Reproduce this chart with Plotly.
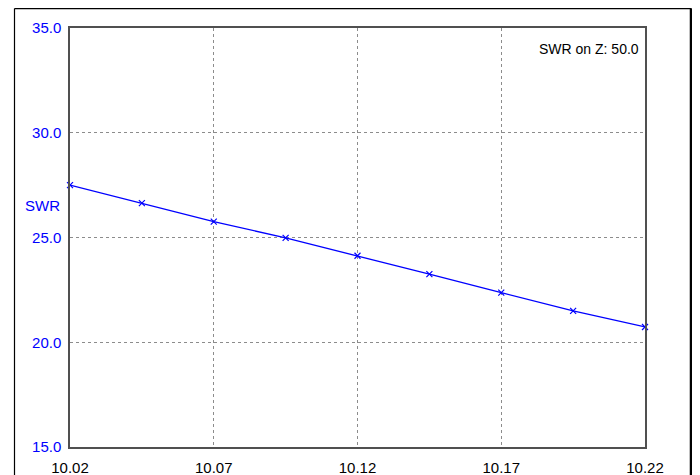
import plotly.graph_objects as go

freq = [10.02, 10.045, 10.07, 10.095, 10.12, 10.145, 10.17, 10.195, 10.22]
swr = [27.50, 26.64, 25.76, 24.98, 24.13, 23.25, 22.37, 21.50, 20.73]
x_ticks = [10.02, 10.07, 10.12, 10.17, 10.22]
x_tick_labels = ["10.02", "10.07", "10.12", "10.17", "10.22"]
y_ticks = [15, 20, 25, 30, 35]
y_tick_labels = ["15.0", "20.0", "25.0", "30.0", "35.0"]

BLUE = "#0000ff"
FONT = "Liberation Sans, Arial, sans-serif"

fig = go.Figure()
fig.add_trace(go.Scatter(
    x=freq, y=swr, mode="lines+markers",
    line=dict(color=BLUE, width=1.3),
    marker=dict(symbol="x-thin", size=6, color=BLUE, line=dict(color=BLUE, width=1.2)),
    cliponaxis=False, showlegend=False,
))

# page body has an 8px margin; work in screen pixels
OFF = 8
W, H = 700 - OFF, 475 - OFF
L_s, R_s, T_s, B_s = 70, 645, 28, 446.7  # plot area edges in screen px
L = L_s - OFF
T = T_s - OFF
R = W - (R_s - OFF)
B = H - (B_s - OFF)
pw, ph = W - L - R, H - T - B

def px(xs):
    return (xs - L_s) / pw

def py(ys):
    return (B_s - ys) / ph

fig.update_layout(
    width=W, height=H,
    margin=dict(l=L, r=R, t=T, b=B, autoexpand=False),
    paper_bgcolor="white", plot_bgcolor="white",
    font=dict(family=FONT, size=15, color="black"),
    xaxis=dict(
        range=[10.02, 10.22], tickvals=x_ticks, ticktext=x_tick_labels,
        showgrid=True, gridcolor="#8c8c8c", griddash="3px,3px", gridwidth=1,
        zeroline=False, showline=True, linecolor="#505050", linewidth=1.5, mirror=True,
        ticks="outside", ticklen=6, tickcolor="rgba(0,0,0,0)", automargin=False,
        tickfont=dict(family=FONT, size=15, color="black"),
    ),
    yaxis=dict(
        range=[15, 35], tickvals=y_ticks, ticktext=y_tick_labels,
        showgrid=True, gridcolor="#8c8c8c", griddash="3px,3px", gridwidth=1,
        zeroline=False, showline=True, linecolor="#505050", linewidth=1.5, mirror=True,
        ticks="outside", ticklen=4, tickcolor="rgba(0,0,0,0)", automargin=False,
        tickfont=dict(family=FONT, size=15, color=BLUE),
    ),
    annotations=[
        dict(text="SWR", xref="paper", yref="paper", x=px(23), y=py(205),
             xanchor="left", yanchor="middle", showarrow=False,
             font=dict(family=FONT, size=15, color=BLUE)),
        dict(text="SWR on Z: 50.0", xref="paper", yref="paper", x=px(641), y=py(49),
             xanchor="right", yanchor="middle", showarrow=False,
             font=dict(family=FONT, size=14, color="black")),
    ],
    shapes=[
        dict(type="line", xref="paper", yref="paper", x0=px(14.5), x1=px(14.5), y0=py(8.6), y1=py(480),
             line=dict(color="black", width=1.2)),
        dict(type="line", xref="paper", yref="paper", x0=px(14.5), x1=px(691.5), y0=py(8.6), y1=py(8.6),
             line=dict(color="black", width=1.2)),
        dict(type="line", xref="paper", yref="paper", x0=px(691), x1=px(691), y0=py(8.6), y1=py(480),
             line=dict(color="black", width=2.5)),
    ],
)

fig.write_html("out.html")
